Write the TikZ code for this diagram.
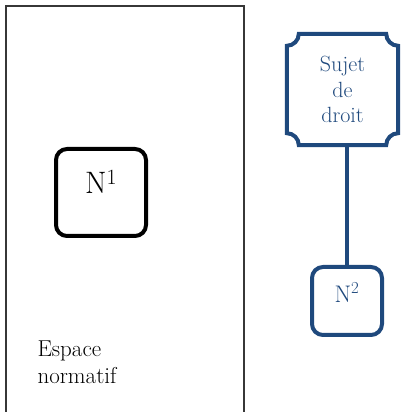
\documentclass[tikz,border=0pt]{standalone}
\usepackage{fontspec}
\usepackage{tikz}
\usepackage{xcolor}
\usetikzlibrary{calc, positioning}
\definecolor{sujetblue}{RGB}{31,73,125}
\definecolor{framegray}{RGB}{55,55,55}
\newcommand{\notch}{12}

\begin{document}
\begin{tikzpicture}[x=1pt, y=1pt,
        espacebox/.style={draw=framegray, line width=2pt, inner sep=0pt,
                minimum width=238pt, minimum height=420pt},
        normbox/.style={draw, line width=4pt, rounded corners=11pt, inner sep=0pt},
        sujetline/.style={draw=sujetblue, line width=4pt}]
                        \clip (0, 0) rectangle (402, 412);
                        \node[espacebox] (espace) at (125, 196) {};
                        \node[normbox, minimum width=90pt, minimum height=87pt,
                                font=\fontsize{31}{36}\selectfont, text height=12pt, text depth=10.5pt]
                                (n1) at (101, 219.5) {N\textsuperscript{1}};
                        \node[anchor=base west, align=left, font=\fontsize{23}{27}\selectfont]
                                (esp) at (34, 28) {Espace\\normatif};
                        \node[inner sep=0pt, minimum width=111pt, minimum height=111pt, align=center,
                                text=sujetblue, font=\fontsize{22}{25.5}\selectfont]
                                (s) at (342.5, 322.5) {Sujet\\de\\droit};
                        \node[normbox, draw=sujetblue, text=sujetblue, minimum width=70pt, minimum height=68pt,
                                font=\fontsize{24}{28}\selectfont, text height=12pt, text depth=8.3pt]
                                (n2) at (347, 111) {N\textsuperscript{2}};
                        % contour du sujet, coins creux
                        \draw[sujetline]
                        ($(s.north west)+(\notch, 0)$) -- ($(s.north east)-(\notch, 0)$)
                        arc[start angle=180, end angle=270, radius=\notch]
                        -- ($(s.south east)+(0, \notch)$)
                        arc[start angle=90, end angle=180, radius=\notch]
                        -- ($(s.south west)+(\notch, 0)$)
                        arc[start angle=0, end angle=90, radius=\notch]
                        -- ($(s.north west)-(0, \notch)$)
                        arc[start angle=270, end angle=360, radius=\notch]
                        -- cycle;
                        \draw[sujetline] (n2.north) -- (n2.north |- s.south);
                    \end{tikzpicture}
\end{document}
